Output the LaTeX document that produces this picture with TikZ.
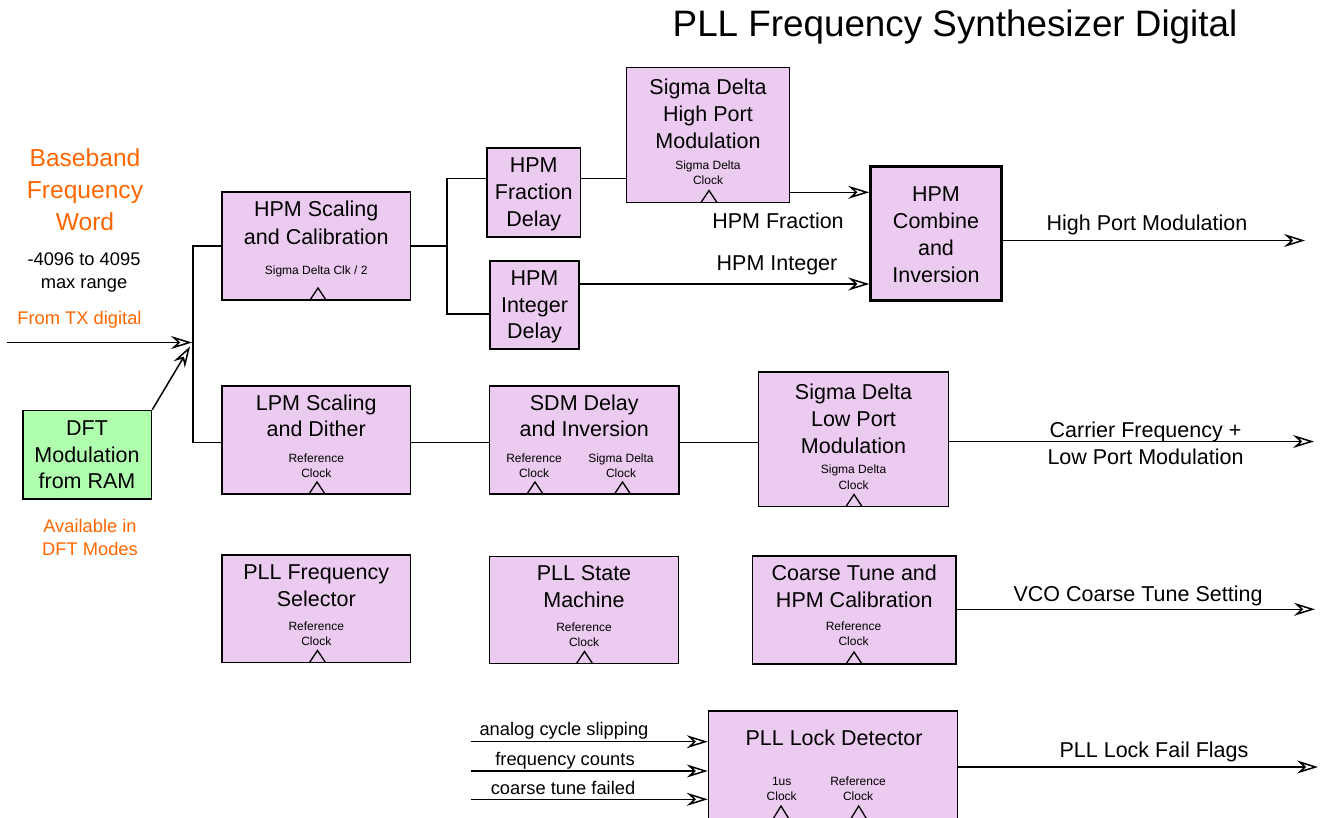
\documentclass[tikz,border=0pt]{standalone}
\usepackage{fontspec}
\setmainfont{Liberation Sans}
\usetikzlibrary{arrows.meta}
\definecolor{blkfill}{RGB}{236,203,240}
\definecolor{dftfill}{RGB}{175,255,175}
\definecolor{orng}{RGB}{255,102,0}
\newcommand\clk[2]{\draw[clkline] (#1-8,#2) -- (#1,#2-12) -- (#1+8,#2);}
\newcommand\fl{\rule{0pt}{16pt}}
\newcommand\fs{\rule{0pt}{10pt}}
\newcommand\fo{\rule{0pt}{19pt}}
\newcommand\fm{\rule{0pt}{14pt}}
\begin{document}
\begin{tikzpicture}[x=1pt,y=-1pt,
  blk/.style={draw, fill=blkfill, line width=1.5pt, inner sep=0pt},
  big/.style={font=\fontsize{21.5}{26.8}\selectfont, align=center, inner sep=0pt, anchor=north},
  lbl/.style={font=\fontsize{21.5}{26.8}\selectfont, inner sep=0pt, anchor=base},
  sml/.style={font=\fontsize{12}{15}\selectfont, align=center, inner sep=0pt, anchor=north},
  smlb/.style={font=\fontsize{12}{15}\selectfont, inner sep=0pt, anchor=base},
  mid/.style={font=\fontsize{18.3}{23}\selectfont, align=center, inner sep=0pt, anchor=north},
  midb/.style={font=\fontsize{18.3}{23}\selectfont, inner sep=0pt, anchor=base},
  wire/.style={line width=1.5pt},
  arr/.style={wire, -{Stealth[open, length=21pt, width=13pt, inset=7pt]}},
  clkline/.style={line width=1.3pt}
]
\useasboundingbox (0,0) rectangle (1321,818);
\clip (0,0) rectangle (1321,818);

% title
\node[font=\fontsize{36.8}{44}\selectfont, inner sep=0pt, anchor=base] (title) at (955,37) {PLL Frequency Synthesizer Digital};

% left texts
\node[font=\fontsize{24.6}{31.6}\selectfont, align=center, inner sep=0pt, anchor=north, text=orng] (bbw) at (85,147.7) {\fo Baseband\\Frequency\\Word};
\node[mid] (rng) at (84,251) {\fm -4096 to 4095\\max range};
\node[midb, text=orng] (ftx) at (79.5,324) {From TX digital};
\node[mid, text=orng] (avl) at (90,518) {\fm Available in\\DFT Modes};

% boxes
\node[blk, fill=dftfill, minimum width=128.5pt, minimum height=88.5pt] (dft) at (87.25,454.75) {};
\node[big] (dftt) at (87,419) {\fl DFT\\Modulation\\from RAM};

\node[blk, minimum width=188.5pt, minimum height=108pt] (hs) at (316.25,246) {};
\node[big, font=\fontsize{21.5}{27.5}\selectfont] (hst) at (316.25,200.5) {\fl HPM Scaling\\and Calibration};
\node[smlb] (hsc) at (316.25,274) {Sigma Delta Clk / 2};
\clk{318}{300}

\node[blk, minimum width=93.5pt, minimum height=89pt] (fd) at (533.75,192.5) {};
\node[big] (fdt) at (533.75,156.5) {\fl HPM\\Fraction\\Delay};

\node[blk, minimum width=89pt, minimum height=88pt] (idl) at (534.5,305) {};
\node[big] (idlt) at (534.5,269) {\fl HPM\\Integer\\Delay};

\node[blk, minimum width=163pt, minimum height=135pt] (sdh) at (708,135) {};
\node[big, font=\fontsize{21.5}{27.4}\selectfont] (sdht) at (708,78) {\fl Sigma Delta\\High Port\\Modulation};
\node[sml] (sdhc) at (708,159.5) {\fs Sigma Delta\\Clock};
\clk{709}{202.5}

\node[blk, line width=2.6pt, minimum width=131pt, minimum height=134pt] (hc) at (936,233.5) {};
\node[big, font=\fontsize{21.5}{27.2}\selectfont] (hct) at (936,185) {\fl HPM\\Combine\\and\\Inversion};

\node[blk, minimum width=188.5pt, minimum height=108pt] (lpm) at (316.25,440) {};
\node[big, font=\fontsize{21.5}{26.5}\selectfont] (lpmt) at (316.25,394) {\fl LPM Scaling\\and Dither};
\node[sml] (lpmc) at (316.25,452) {\fs Reference\\Clock};
\clk{317}{494}

\node[blk, minimum width=189.5pt, minimum height=108pt] (sdm) at (584.25,440) {};
\node[big, font=\fontsize{21.5}{26.5}\selectfont] (sdmt) at (584.25,394) {\fl SDM Delay\\and Inversion};
\node[sml] (sdmc1) at (534,452) {\fs Reference\\Clock};
\node[sml] (sdmc2) at (621,452) {\fs Sigma Delta\\Clock};
\clk{535}{494}
\clk{622.5}{494}

\node[blk, minimum width=190pt, minimum height=134.5pt] (sdl) at (853.5,439.25) {};
\node[big, font=\fontsize{21.5}{27.2}\selectfont] (sdlt) at (853.5,383) {\fl Sigma Delta\\Low Port\\Modulation};
\node[sml, font=\fontsize{12}{16}\selectfont] (sdlc) at (853.5,463.5) {\fs Sigma Delta\\Clock};
\clk{854}{506.5}

\node[blk, minimum width=188.5pt, minimum height=107.5pt] (pfs) at (316.25,608.75) {};
\node[big, font=\fontsize{21.5}{27.5}\selectfont] (pfst) at (316.25,563) {\fl PLL Frequency\\Selector};
\node[sml] (pfsc) at (316.25,620) {\fs Reference\\Clock};
\clk{317.5}{662.5}

\node[blk, minimum width=189pt, minimum height=107pt] (psm) at (584,610) {};
\node[big, font=\fontsize{21.5}{27.5}\selectfont] (psmt) at (584,564) {\fl PLL State\\Machine};
\node[sml] (psmc) at (584,621) {\fs Reference\\Clock};
\clk{584.5}{663.5}

\node[blk, minimum width=203.5pt, minimum height=108pt] (ct) at (854.25,610) {};
\node[big] (ctt) at (854.25,564) {\fl Coarse Tune and\\HPM Calibration};
\node[sml] (ctc) at (853.5,620.7) {\fs Reference\\Clock};
\clk{854}{664}

\node[blk, minimum width=249pt, minimum height=129pt] (ld) at (833,775.5) {};
\node[lbl] (ldt) at (834,745) {PLL Lock Detector};
\node[sml] (ldc1) at (781.7,775.5) {\fs 1us\\Clock};
\node[sml] (ldc2) at (858,775.5) {\fs Reference\\Clock};
\draw[clkline] (773,819) -- (781,806) -- (789,819);
\draw[clkline] (850.7,819) -- (858.7,806) -- (866.7,819);

% coordinates
\coordinate (in) at (7,342.5);
\coordinate (jn) at (192,342.5);
\coordinate (jd) at (190,346.5);
\coordinate (bt) at (193,246);
\coordinate (bb) at (193,442.3);
\coordinate (s0) at (447,246);
\coordinate (s1) at (447,178.5);
\coordinate (s2) at (447,314);
\coordinate (fo) at (0,192.3);
\coordinate (io) at (0,284);
\coordinate (ho) at (1305,240.5);
\coordinate (co) at (1314,441.5);
\coordinate (vo) at (1315,609.3);
\coordinate (lo) at (1318,767);
\coordinate (i1) at (471,741.7);
\coordinate (i2) at (471,771);
\coordinate (i3) at (471,799.3);

% connectors
\draw[arr] (in) -- (jn);
\draw[arr] (dft.north east) -- (jd);
\draw[wire] (hs.west) -- (bt) -- (bb) -- (lpm.west |- bb);
\draw[wire] (hs.east) -- (s0);
\draw[wire] (fd.west |- s1) -- (s1) -- (s2) -- (idl.west |- s2);
\draw[wire] (fd.east |- s1) -- (sdh.west |- s1);
\draw[arr] (sdh.east |- fo) -- (hc.west |- fo);
\draw[arr] (idl.east |- io) -- (hc.west |- io);
\draw[arr] (hc.east |- ho) -- (ho);
\draw[wire] (lpm.east |- bb) -- (sdm.west |- bb);
\draw[wire] (sdm.east |- bb) -- (sdl.west |- bb);
\draw[arr] (sdl.east |- co) -- (co);
\draw[arr] (ct.east |- vo) -- (vo);
\draw[arr] (ld.east |- lo) -- (lo);
\draw[arr] (i1) -- (ld.west |- i1);
\draw[arr] (i2) -- (ld.west |- i2);
\draw[arr] (i3) -- (ld.west |- i3);

% connector labels
\node[lbl] (lfr) at (778,228.3) {HPM Fraction};
\node[lbl] (lint) at (777,270) {HPM Integer};
\node[lbl] (lhpm) at (1147,231) {High Port Modulation};
\node[big, font=\fontsize{21.5}{27}\selectfont] (lcar) at (1145.5,421) {\fl Carrier Frequency +\\Low Port Modulation};
\node[lbl] (lvco) at (1138,601) {VCO Coarse Tune Setting};
\node[lbl] (llf) at (1154,757) {PLL Lock Fail Flags};
\node[midb] (la1) at (564,735) {analog cycle slipping};
\node[midb] (la2) at (565,765) {frequency counts};
\node[midb] (la3) at (563,794) {coarse tune failed};
\end{tikzpicture}
\end{document}
